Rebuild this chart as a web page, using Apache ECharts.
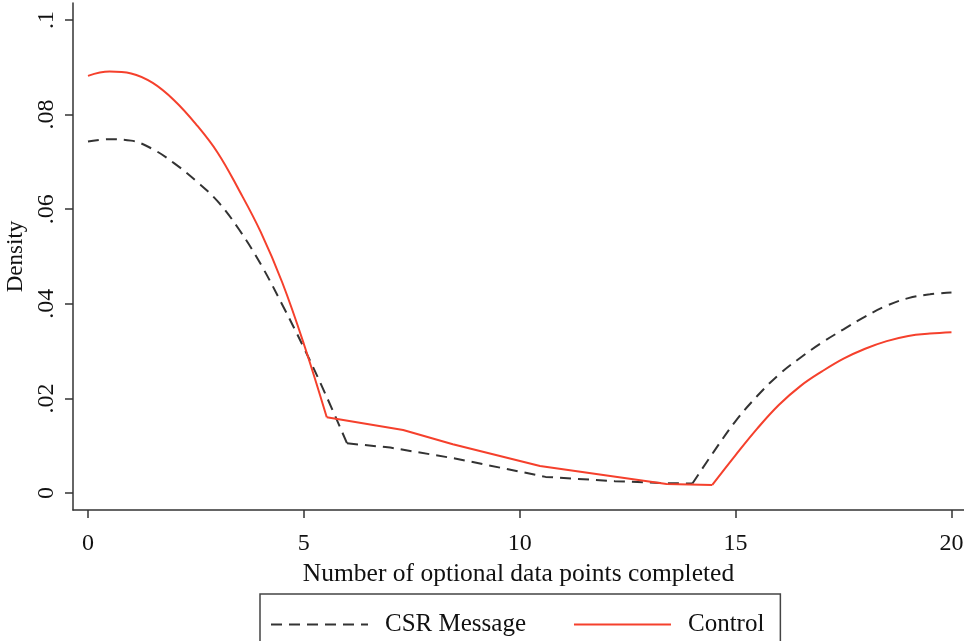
<!DOCTYPE html>
<html>
<head>
<meta charset="utf-8">
<script src="https://cdn.jsdelivr.net/npm/echarts@6/dist/echarts.min.js"></script>
<style>
  html, body { margin: 0; padding: 0; background: #fff; }
  #chart { width: 964px; height: 641px; }
</style>
</head>
<body>
<div id="chart"></div>
<script>
// values
const csrX = [0, 0.5, 1, 1.5, 2, 2.5, 3, 3.5, 4, 4.5, 5, 5.5, 6, 7, 8.5, 10.6, 12.2, 13.3, 14.0,
  14.5, 15, 15.5, 16, 16.5, 17, 17.5, 18, 18.5, 19, 19.5, 20]
const csrY = [.0743, .0748, .0745, .0727, .0697, .0660, .0617, .0557, .0484, .0398, .0307, .0209, .0105,
  .0096, .0073, .0034, .0025, .0021, .0020,
  .0088, .0152, .0205, .0250, .0286, .0318, .0346, .0373, .0396, .0412, .0420, .0424]

const ctrlX = [0, 0.5, 1, 1.5, 2, 2.5, 3, 3.5, 4, 4.5, 5, 5.53, 7.3, 8.45, 10.47, 13.4, 14.46,
  15, 15.5, 16, 16.5, 17, 17.5, 18, 18.5, 19, 19.5, 20]
const ctrlY = [.0882, .0891, .0887, .0867, .0830, .0780, .0720, .0640, .0552, .0445, .0315, .0160,
  .0133, .0103, .0057, .0019, .0017,
  .0080, .0136, .0186, .0226, .0257, .0284, .0305, .0321, .0332, .0337, .0340]

const xTicks = [0, 5, 10, 15, 20]
const yTicks = [0, 0.02, 0.04, 0.06, 0.08, 0.1]

const FONT = '"Liberation Serif", "DejaVu Serif", serif'
const AXIS_COLOR = '#333'
const CSR_COLOR = '#333'
const CTRL_COLOR = '#f5402c'

const zip = (xs, ys) => xs.map((x, i) => [x, ys[i]])
const csrData = zip(csrX, csrY)
const ctrlData = zip(ctrlX, ctrlY)

// curved stretches get smoothing, the straight middle stretch does not
const part = (name, data, from, to, smooth, lineStyle) => ({
  name,
  type: 'line',
  data: data.slice(from, to + 1),
  smooth,
  showSymbol: false,
  symbol: 'none',
  lineStyle,
  itemStyle: { color: lineStyle.color },
})

const csrLine = { color: CSR_COLOR, width: 2, type: [11, 7] }
const ctrlLine = { color: CTRL_COLOR, width: 2 }

const chart = echarts.init(document.getElementById('chart'), null, { renderer: 'canvas' })

const option = {
  animation: false,
  backgroundColor: '#fff',
  grid: { left: 73, right: 0, top: 3, bottom: 131, outerBoundsMode: 'none' },
  legend: {
    left: 260,
    top: 594,
    padding: [18, 16, 18, 10],
    borderColor: '#444',
    borderWidth: 1.5,
    itemWidth: 97,
    itemHeight: 14,
    itemGap: 47,
    itemStyle: { color: 'transparent', borderWidth: 0 },
    textStyle: { fontFamily: FONT, fontSize: 25, color: '#111', padding: [0, 0, 0, 12] },
    data: ['CSR Message', 'Control'],
  },
  xAxis: {
    type: 'value',
    min: -0.347,
    max: 20.29,
    name: 'Number of optional data points completed',
    nameLocation: 'middle',
    nameGap: 44,
    nameTextStyle: { fontFamily: FONT, fontSize: 25.5, color: '#111' },
    axisLine: { show: true, onZero: false, lineStyle: { color: AXIS_COLOR, width: 1.5 } },
    axisTick: { show: true, length: 8, customValues: xTicks, lineStyle: { color: AXIS_COLOR, width: 1.5 } },
    axisLabel: { customValues: xTicks, margin: 22, fontFamily: FONT, fontSize: 24, color: '#111' },
    splitLine: { show: false },
  },
  yAxis: {
    type: 'value',
    min: -0.0036,
    max: 0.1036,
    name: 'Density',
    nameLocation: 'middle',
    nameGap: 46,
    nameTextStyle: { fontFamily: FONT, fontSize: 23, color: '#111' },
    axisLine: { show: true, onZero: false, lineStyle: { color: AXIS_COLOR, width: 1.5 } },
    axisTick: { show: true, length: 8, customValues: yTicks, lineStyle: { color: AXIS_COLOR, width: 1.5 } },
    axisLabel: {
      customValues: yTicks,
      rotate: 90,
      margin: 14,
      fontFamily: FONT,
      fontSize: 24,
      color: '#111',
      formatter: v => (v === 0 ? '0' : String(v).replace(/^0/, '')),
    },
    splitLine: { show: false },
  },
  series: [
    part('CSR Message', csrData, 0, 12, 0.4, csrLine),
    part('CSR Message', csrData, 12, 18, false, csrLine),
    part('CSR Message', csrData, 18, csrData.length - 1, 0.4, csrLine),
    part('Control', ctrlData, 0, 11, 0.4, ctrlLine),
    part('Control', ctrlData, 11, 16, false, ctrlLine),
    part('Control', ctrlData, 16, ctrlData.length - 1, 0.4, ctrlLine),
  ],
}

chart.setOption(option)
</script>
</body>
</html>
